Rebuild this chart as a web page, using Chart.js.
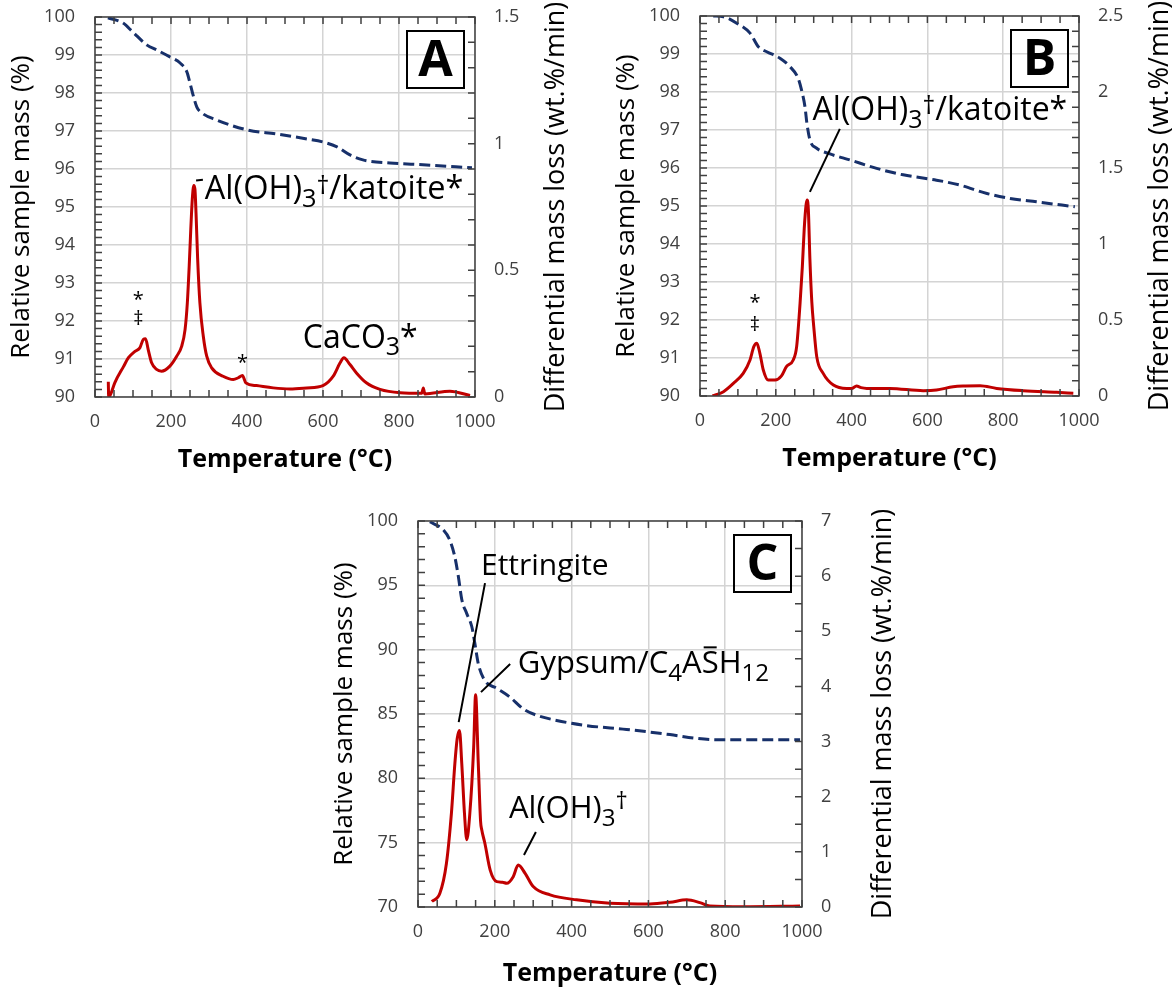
<!DOCTYPE html>
<html>
<head>
<meta charset="utf-8">
<title>TGA / DTG</title>
<script src="https://cdn.jsdelivr.net/npm/chart.js@4.4.0/dist/chart.umd.min.js"></script>
<style>
    body { margin: 0; background: #fff; width: 1176px; height: 989px; position: relative; overflow: hidden; }
    .panel { position: absolute; }
</style>
</head>
<body>
<div class="panel" style="left:0px;top:0px"><canvas id="chart-a" width="590" height="475"></canvas></div>
<div class="panel" style="left:605px;top:0px"><canvas id="chart-b" width="571" height="474"></canvas></div>
<div class="panel" style="left:323px;top:500px"><canvas id="chart-c" width="580" height="489"></canvas></div>
<script>
// Axis ticks
const tempTicks = [0, 200, 400, 600, 800, 1000];
const massTicksAB = [90, 91, 92, 93, 94, 95, 96, 97, 98, 99, 100];
const massTicksC = [70, 75, 80, 85, 90, 95, 100];
const dtgTicksA = [0, 0.5, 1, 1.5];
const dtgTicksB = [0, 0.5, 1, 1.5, 2, 2.5];
const dtgTicksC = [0, 1, 2, 3, 4, 5, 6, 7];

// Panel A - mass (%) and DTG (wt.%/min)
const massTempA = [34, 74, 100, 137, 163, 197, 224, 242, 250, 258, 268, 282, 320, 400, 479, 558, 600, 637, 671, 705, 776, 863, 992];
const massA = [99.98, 99.84, 99.6, 99.26, 99.13, 98.95, 98.79, 98.55, 98.26, 97.95, 97.63, 97.47, 97.29, 97.03, 96.92, 96.79, 96.71, 96.58, 96.37, 96.24, 96.16, 96.11, 96.03];
const dtgTempA = [35, 36, 41, 52, 75, 88, 105, 118, 127, 133, 140, 149, 162, 175, 197, 215, 228, 237, 243, 248, 252, 256, 260, 263, 266, 270, 276, 285, 294, 307, 337, 364, 377, 388, 397, 425, 469, 513, 557, 600, 627, 645, 655, 671, 688, 714, 750, 803, 860, 864, 868, 934, 987];
const dtgA = [0.06, 0.0, 0.01, 0.056, 0.12, 0.155, 0.18, 0.194, 0.227, 0.23, 0.187, 0.135, 0.109, 0.102, 0.122, 0.161, 0.2, 0.266, 0.372, 0.52, 0.66, 0.78, 0.835, 0.82, 0.72, 0.55, 0.372, 0.24, 0.161, 0.115, 0.082, 0.069, 0.076, 0.085, 0.056, 0.045, 0.036, 0.032, 0.036, 0.045, 0.082, 0.135, 0.155, 0.128, 0.095, 0.056, 0.03, 0.017, 0.015, 0.036, 0.012, 0.023, 0.006];

// Panel B
const massTempB = [35, 62, 97, 132, 154, 176, 211, 237, 259, 268, 277, 282, 290, 308, 343, 396, 466, 536, 624, 686, 757, 818, 888, 989];
const massB = [100.0, 99.98, 99.81, 99.55, 99.19, 99.06, 98.89, 98.67, 98.36, 98.05, 97.61, 97.18, 96.74, 96.52, 96.37, 96.21, 95.99, 95.82, 95.68, 95.55, 95.33, 95.2, 95.11, 94.98];
const dtgTempB = [33, 62, 88, 114, 132, 142, 150, 158, 167, 180, 198, 215, 228, 246, 255, 264, 270, 275, 280, 283, 286, 290, 295, 300, 308, 325, 352, 387, 400, 413, 425, 440, 501, 589, 624, 668, 700, 739, 783, 853, 941, 985];
const dtgB = [0.0, 0.028, 0.083, 0.149, 0.237, 0.325, 0.347, 0.281, 0.171, 0.105, 0.105, 0.132, 0.193, 0.237, 0.325, 0.61, 0.85, 1.1, 1.26, 1.29, 1.22, 0.9, 0.62, 0.46, 0.259, 0.149, 0.072, 0.05, 0.05, 0.066, 0.055, 0.05, 0.05, 0.035, 0.039, 0.061, 0.066, 0.068, 0.05, 0.035, 0.024, 0.018];

// Panel C
const massTempC = [31, 66, 83, 96, 105, 114, 127, 140, 148, 157, 174, 205, 240, 274, 309, 361, 439, 543, 656, 726, 778, 995];
const massC = [99.94, 99.3, 98.5, 97.2, 95.7, 93.9, 92.8, 91.8, 90.5, 88.9, 87.6, 87.0, 86.3, 85.4, 84.9, 84.5, 84.1, 83.8, 83.4, 83.1, 83.0, 83.0];
const dtgTempC = [36, 57, 74, 87, 96, 102, 108, 114, 121, 127, 135, 145, 150, 157, 163, 166, 174, 188, 205, 220, 231, 248, 261, 279, 300, 344, 413, 500, 604, 656, 700, 734, 760, 847, 995];
const dtgC = [0.1, 0.25, 0.79, 1.7, 2.6, 3.05, 3.2, 2.6, 1.7, 1.22, 1.7, 2.9, 3.85, 2.6, 1.55, 1.4, 1.16, 0.67, 0.46, 0.45, 0.43, 0.55, 0.76, 0.61, 0.37, 0.22, 0.13, 0.07, 0.055, 0.085, 0.13, 0.08, 0.02, 0.005, 0.02];

const AXIS_COLOR = '#404040';
const GRID_COLOR = '#d4d4d4';
const MASS_COLOR = '#17306a';
const DTG_COLOR = '#c00000';
const FONT = "'Open Sans', 'Noto Sans', sans-serif";

Chart.defaults.font.family = FONT;
Chart.defaults.color = AXIS_COLOR;

function toPoints(xs, ys) {
    return xs.map((x, i) => ({ x: x, y: ys[i] }));
}

// fixe la taille d'un axe (et annule ses marges) pour caler la zone de tracé
function fixedSize(size) {
    return scale => {
        if (scale.isHorizontal()) {
            scale.height = size;
            scale.paddingLeft = 0;
            scale.paddingRight = 0;
        } else {
            scale.width = size;
            scale.paddingTop = 0;
            scale.paddingBottom = 0;
        }
    };
}

function useTicks(values) {
    return scale => {
        scale.ticks = values.map(v => ({ value: v }));
    };
}

const plainLabel = v => String(v);

// décalage vertical des morceaux de texte (fraction de la taille)
const RUN_SHIFT = { sub: 0.24, sup: -0.3, dag: -0.18 };

// texte avec indices / exposants / barre
function drawRuns(ctx, x, y, runs, size) {
    let cx = x;
    runs.forEach(([t, kind]) => {
        const small = kind in RUN_SHIFT;
        const s = small ? size * 0.78 : size;
        const dy = small ? size * RUN_SHIFT[kind] : 0;
        ctx.font = s + 'px ' + FONT;
        ctx.fillText(t, cx, y + dy);
        const w = ctx.measureText(t).width;
        if (kind === 'bar') {
            ctx.beginPath();
            ctx.lineWidth = 2;
            ctx.moveTo(cx + 2, y - size * 0.83);
            ctx.lineTo(cx + w - 2, y - size * 0.83);
            ctx.stroke();
        }
        cx += w;
    });
}

// cadre, graduations intérieures, lettre du panneau, annotations, titre de droite
const panelDecor = {
    id: 'panelDecor',
    afterDraw(chart, args, opts) {
        const { ctx, chartArea: a, scales } = chart;
        const sx = scales.x, sy = scales.y, sy1 = scales.y1;
        const tick = 7;
        ctx.save();
        ctx.strokeStyle = AXIS_COLOR;
        ctx.lineWidth = 1.5;
        ctx.beginPath();
        for (let t = sx.min; t <= sx.max + 1e-9; t += opts.xMinor) {
            const px = sx.getPixelForValue(t);
            ctx.moveTo(px, a.bottom); ctx.lineTo(px, a.bottom - tick);
            ctx.moveTo(px, a.top); ctx.lineTo(px, a.top + tick);
        }
        for (let v = sy.min; v <= sy.max + 1e-9; v += opts.yMinor) {
            const py = sy.getPixelForValue(v);
            ctx.moveTo(a.left, py); ctx.lineTo(a.left + tick, py);
        }
        for (let v = sy1.min; v <= sy1.max + 1e-9; v += opts.y1Minor) {
            const py = sy1.getPixelForValue(v);
            ctx.moveTo(a.right, py); ctx.lineTo(a.right - tick, py);
        }
        ctx.stroke();
        ctx.strokeRect(a.left, a.top, a.right - a.left, a.bottom - a.top);

        // lettre encadrée
        const box = 57;
        const bx = a.right - 11 - box, by = a.top + 14;
        ctx.strokeStyle = '#000';
        ctx.lineWidth = 2;
        ctx.strokeRect(bx, by, box, box);
        ctx.fillStyle = '#000';
        ctx.font = 'bold 50px ' + FONT;
        ctx.textAlign = 'center';
        ctx.textBaseline = 'middle';
        ctx.fillText(opts.letter, bx + box / 2, by + box / 2 + 2);

        // traits de rappel
        ctx.lineWidth = 2;
        ctx.beginPath();
        opts.leaders.forEach(([t1, m1, t2, m2]) => {
            ctx.moveTo(sx.getPixelForValue(t1), sy.getPixelForValue(m1));
            ctx.lineTo(sx.getPixelForValue(t2), sy.getPixelForValue(m2));
        });
        ctx.stroke();

        // étiquettes des pics
        ctx.textAlign = 'left';
        ctx.textBaseline = 'alphabetic';
        opts.labels.forEach(l => {
            drawRuns(ctx, sx.getPixelForValue(l.t), sy.getPixelForValue(l.m), l.runs, l.size);
        });
        ctx.textAlign = 'center';
        ctx.textBaseline = 'middle';
        ctx.font = '20px ' + FONT;
        opts.marks.forEach(k => {
            ctx.fillText(k.text, sx.getPixelForValue(k.t), sy.getPixelForValue(k.m));
        });

        // titre de l'axe de droite, lu de bas en haut
        ctx.translate(a.right + 81, (a.top + a.bottom) / 2);
        ctx.rotate(-Math.PI / 2);
        ctx.font = '27px ' + FONT;
        ctx.fillText('Differential mass loss (wt.%/min)', 0, 0);
        ctx.restore();
    }
};

function makePanel(id, p) {
    const ctx = document.getElementById(id);
    return new Chart(ctx, {
        type: 'line',
        data: {
            datasets: [{
                label: 'Mass',
                data: toPoints(p.massTemp, p.mass),
                yAxisID: 'y',
                borderColor: MASS_COLOR,
                borderWidth: 3,
                borderDash: [11, 5],
                pointRadius: 0,
                cubicInterpolationMode: 'monotone'
            }, {
                label: 'DTG',
                data: toPoints(p.dtgTemp, p.dtg),
                yAxisID: 'y1',
                borderColor: DTG_COLOR,
                borderWidth: 3,
                pointRadius: 0,
                cubicInterpolationMode: 'monotone'
            }]
        },
        options: {
            responsive: false,
            animation: false,
            devicePixelRatio: 1,
            layout: { padding: { top: p.top, left: 0, right: 0, bottom: 0 } },
            plugins: {
                legend: { display: false },
                tooltip: { enabled: false },
                panelDecor: p.decor
            },
            scales: {
                x: {
                    type: 'linear',
                    min: 0, max: 1000,
                    afterFit: fixedSize(p.bottomHeight),
                    afterBuildTicks: useTicks(tempTicks),
                    border: { display: false },
                    grid: { color: GRID_COLOR, lineWidth: 1.5, drawTicks: false },
                    ticks: { padding: 14, font: { size: 18 }, color: AXIS_COLOR, maxRotation: 0, callback: plainLabel },
                    title: {
                        display: true,
                        text: 'Temperature (°C)',
                        color: '#000',
                        font: { size: 25, weight: 'bold' },
                        padding: { top: 0, bottom: 0 }
                    }
                },
                y: {
                    position: 'left',
                    min: p.massTicks[0], max: p.massTicks[p.massTicks.length - 1],
                    afterFit: fixedSize(95),
                    afterBuildTicks: useTicks(p.massTicks),
                    border: { display: false },
                    grid: { color: GRID_COLOR, lineWidth: 1.5, drawTicks: false },
                    ticks: { padding: 20, font: { size: 18 }, color: AXIS_COLOR, callback: plainLabel },
                    title: {
                        display: true,
                        text: 'Relative sample mass (%)',
                        color: '#000',
                        font: { size: 26 },
                        padding: { top: 6, bottom: 0 }
                    }
                },
                y1: {
                    position: 'right',
                    min: 0, max: p.dtgTicks[p.dtgTicks.length - 1],
                    afterFit: fixedSize(p.rightWidth),
                    afterBuildTicks: useTicks(p.dtgTicks),
                    border: { display: false },
                    grid: { drawOnChartArea: false, drawTicks: false },
                    ticks: { padding: 19, font: { size: 18 }, color: AXIS_COLOR, callback: plainLabel }
                }
            }
        },
        plugins: [panelDecor]
    });
}

const labelAlOHkat = [['Al(OH)', ''], ['3', 'sub'], ['\u2020', 'dag'], ['/katoite*', '']];

makePanel('chart-a', {
    massTemp: massTempA, mass: massA, dtgTemp: dtgTempA, dtg: dtgA,
    massTicks: massTicksAB, dtgTicks: dtgTicksA, top: 17, rightWidth: 115, bottomHeight: 78,
    decor: {
        letter: 'A', xMinor: 50, yMinor: 0.2, y1Minor: 0.1,
        leaders: [[266, 95.70, 284, 95.72]],
        labels: [
            { t: 289, m: 95.2, size: 32.5, runs: labelAlOHkat },
            { t: 547, m: 91.3, size: 32, runs: [['CaCO', ''], ['3', 'sub'], ['*', '']] }
        ],
        marks: [
            { t: 114, m: 92.55, text: '*' },
            { t: 114, m: 92.05, text: '\u2021' },
            { t: 388, m: 90.9, text: '*' }
        ]
    }
});

makePanel('chart-b', {
    massTemp: massTempB, mass: massB, dtgTemp: dtgTempB, dtg: dtgB,
    massTicks: massTicksAB, dtgTicks: dtgTicksB, top: 16, rightWidth: 97, bottomHeight: 78,
    decor: {
        letter: 'B', xMinor: 50, yMinor: 0.2, y1Minor: 0.1,
        leaders: [[369, 97.03, 290, 95.37]],
        labels: [
            { t: 297, m: 97.26, size: 32, runs: labelAlOHkat }
        ],
        marks: [
            { t: 145, m: 92.45, text: '*' },
            { t: 145, m: 91.85, text: '\u2021' }
        ]
    }
});

makePanel('chart-c', {
    massTemp: massTempC, mass: massC, dtgTemp: dtgTempC, dtg: dtgC,
    massTicks: massTicksC, dtgTicks: dtgTicksC, top: 21, rightWidth: 101, bottomHeight: 82,
    decor: {
        letter: 'C', xMinor: 50, yMinor: 1, y1Minor: 0.5,
        leaders: [[174.5, 95.17, 106, 84.37], [240, 88.88, 164, 86.7], [307, 75.83, 276, 74.04]],
        labels: [
            { t: 164, m: 95.8, size: 30, runs: [['Ettringite', '']] },
            { t: 260, m: 88.18, size: 31, runs: [['Gypsum/C', ''], ['4', 'sub'], ['A', ''], ['S', 'bar'], ['H', ''], ['12', 'sub']] },
            { t: 237, m: 76.9, size: 31, runs: [['Al(OH)', ''], ['3', 'sub'], ['\u2020', 'sup']] }
        ],
        marks: []
    }
});
</script>
</body>
</html>
